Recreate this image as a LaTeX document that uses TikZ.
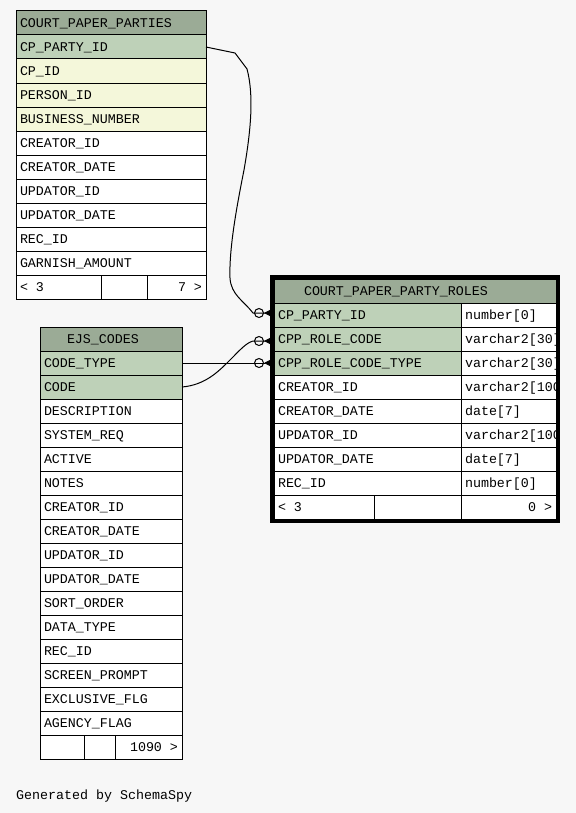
\documentclass[tikz,border=0pt]{standalone}
\usepackage{fontspec}
\usepackage{tikz}
\usetikzlibrary{arrows.meta, fit}
\newfontfamily\erdfont{Liberation Mono}
\definecolor{erdBack}{HTML}{F7F7F7}
\definecolor{erdHead}{HTML}{9BAB96}
\definecolor{erdKey} {HTML}{BED1B8}
\definecolor{erdIdx} {HTML}{F4F7DA}
\tikzset{
  erdtext/.style={font=\erdfont\fontsize{13.33bp}{16bp}\selectfont, text height=9bp, text depth=0pt},
  erdcell/.style={erdtext, draw=black, line width=1bp, anchor=north west, outer sep=0pt,
                  minimum height=24bp, inner xsep=4bp, inner ysep=0pt, align=left},
  fkend/.style={line width=1bp,
                -{Circle[open, length=10bp, width=10bp] Triangle[reversed, length=10bp, width=10bp]}},
}

\begin{document}
\begin{tikzpicture}[x=1bp, y=-1bp]
  \fill[erdBack] (0,0) rectangle (576,813);
  \useasboundingbox (0,0) rectangle (576,813);

  % COURT_PAPER_PARTIES
  \node[erdcell, fill=erdHead, text width=182bp] (pphead) at (16,11) {COURT\_PAPER\_PARTIES};
  \foreach \lbl/\fc [count=\i] in {CP\_PARTY\_ID/erdKey, CP\_ID/erdIdx, PERSON\_ID/erdIdx,
      BUSINESS\_NUMBER/erdIdx, CREATOR\_ID/white, CREATOR\_DATE/white, UPDATOR\_ID/white,
      UPDATOR\_DATE/white, REC\_ID/white, GARNISH\_AMOUNT/white}{
    \node[erdcell, fill=\fc, text width=182bp] (pp\i) at (16,{11+24*\i}) {\lbl};
  }
  \node[erdcell, fill=white, text width=77bp] (ppf1) at (16,275) {<\hspace{8bp}3};
  \node[erdcell, fill=white, text width=38bp] (ppf2) at (101,275) {};
  \node[erdcell, fill=white, text width=51bp, align=right] (ppf3) at (147,275) {7\hspace{8bp}>};

  % EJS_CODES
  \node[erdcell, fill=erdHead, text width=134bp] (ejhead) at (40,327) {\hspace*{23bp}EJS\_CODES};
  \foreach \lbl/\fc [count=\i] in {CODE\_TYPE/erdKey, CODE/erdKey, DESCRIPTION/white,
      SYSTEM\_REQ/white, ACTIVE/white, NOTES/white, CREATOR\_ID/white, CREATOR\_DATE/white,
      UPDATOR\_ID/white, UPDATOR\_DATE/white, SORT\_ORDER/white, DATA\_TYPE/white,
      REC\_ID/white, SCREEN\_PROMPT/white, EXCLUSIVE\_FLG/white, AGENCY\_FLAG/white}{
    \node[erdcell, fill=\fc, text width=134bp] (ej\i) at (40,{327+24*\i}) {\lbl};
  }
  \node[erdcell, fill=white, text width=36bp] (ejf1) at (40,735) {};
  \node[erdcell, fill=white, text width=23bp] (ejf2) at (84,735) {};
  \node[erdcell, fill=white, text width=59bp, align=right] (ejf3) at (115,735) {1090\hspace{8bp}>};

  % COURT_PAPER_PARTY_ROLES
  \node[erdcell, fill=erdHead, text width=274bp] (rlhead) at (274,279) {\hspace*{26bp}COURT\_PAPER\_PARTY\_ROLES};
  \begin{scope}
    \clip (274,279) rectangle (557,519);
    \foreach \lbl/\typ/\fc [count=\i] in {CP\_PARTY\_ID/number[0]/erdKey,
        CPP\_ROLE\_CODE/varchar2[30]/erdKey, CPP\_ROLE\_CODE\_TYPE/varchar2[30]/erdKey,
        CREATOR\_ID/varchar2[100]/white, CREATOR\_DATE/date[7]/white,
        UPDATOR\_ID/varchar2[100]/white, UPDATOR\_DATE/date[7]/white, REC\_ID/number[0]/white}{
      \node[erdcell, fill=\fc, text width=179bp] (rl\i) at (274,{279+24*\i}) {\lbl};
      \node[erdcell, fill=white, text width=87bp] (rlt\i) at (461,{279+24*\i}) {\typ};
    }
    \node[erdcell, fill=white, text width=92bp] (rlf1) at (274,495) {<\hspace{8bp}3};
    \node[erdcell, fill=white, text width=79bp] (rlf2) at (374,495) {};
    \node[erdcell, fill=white, text width=87bp, align=right] (rlf3) at (461,495) {0\hspace{8bp}>};
  \end{scope}

  % foreign keys
  \coordinate (pjoin) at (253,313);
  \coordinate (cjoin) at (253,341);
  \draw[fkend] (pp1.east) -- (235,53) -- (247,69)
      .. controls (254,95) and (251,130) .. (244,170)
      .. controls (236,210) and (229,250) .. (230,278)
      .. controls (231,295) and (244,301) .. (pjoin) -- ([yshift=2bp]rl1.west);
  \draw[fkend] (ej2.east) .. controls (205,385) and (218,372) .. (230,360)
      .. controls (240,350) and (246,343) .. (cjoin) -- ([yshift=-2bp]rl2.west);
  \draw[fkend] (ej1.east) -- (rl3.west);

  \node[draw=black, line width=3.5bp, inner sep=2bp, fit=(rlhead)(rlf3)] (rlframe) {};

  \node[erdtext, anchor=base west, inner sep=0pt] (credit) at (16,799) {Generated by SchemaSpy};
\end{tikzpicture}
\end{document}
